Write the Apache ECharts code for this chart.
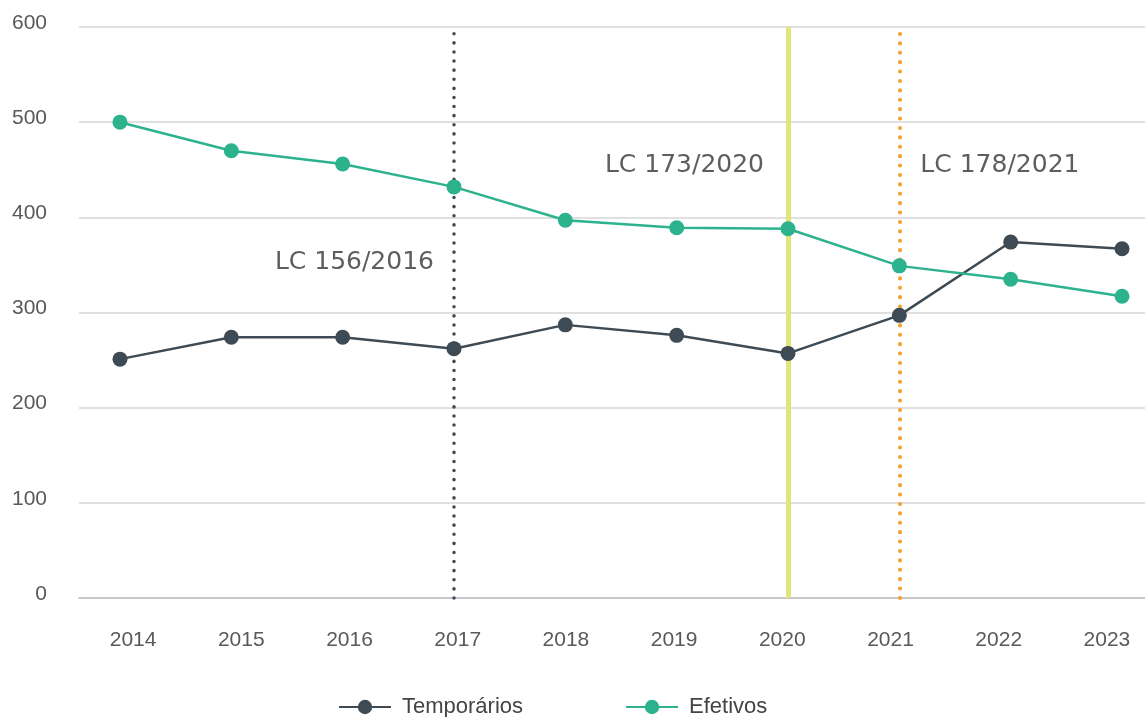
<!DOCTYPE html>
<html>
<head>
<meta charset="utf-8">
<title>Temporários x Efetivos</title>
<style>
  html, body { margin: 0; padding: 0; background: #fff; }
  #chart { width: 1145px; height: 717px; }
</style>
<script src="https://cdn.jsdelivr.net/npm/echarts@6/dist/echarts.min.js"></script>
</head>
<body>
<div id="chart"></div>
<script>
const years = [2014, 2015, 2016, 2017, 2018, 2019, 2020, 2021, 2022, 2023]
const temporarios = [251, 274, 274, 262, 287, 276, 257, 297, 374, 367]
const efetivos = [500, 470, 456, 432, 397, 389, 388, 349, 335, 317]

// y axis ticks
const yMin = 0
const yMax = 600
const yStep = 100

// laws marked on the chart
const lawYears = [2017, 2020, 2021]
const lawLabels = ['LC 156/2016', 'LC 173/2020', 'LC 178/2021']

const darkColor = '#3e4b55'
const tealColor = '#2db28e'
const textColor = '#595959'
const font = 'Liberation Sans, Arial, sans-serif'

const chart = echarts.init(document.getElementById('chart'))

const lawStyles = [
  { color: darkColor, width: 3.5, type: [0.1, 9], cap: 'round' },
  { color: '#e2e57a', width: 5, type: 'solid' },
  { color: '#f5a02e', width: 4, type: [0.1, 9.3], cap: 'round' }
]
const lawLabelPos = [
  { level: 353, side: 'left', distance: 20 },
  { level: 454, side: 'left', distance: 24 },
  { level: 454, side: 'right', distance: 21 }
]

function pairs(values) {
  return years.map((y, i) => [y, values[i]])
}

chart.setOption({
  animation: false,
  textStyle: { fontFamily: font },
  grid: { left: 79, right: -16, top: 27, bottom: 119, outerBoundsMode: 'none', containLabel: false },
  legend: {
    data: ['Temporários', 'Efetivos'],
    left: 333,
    top: 691,
    itemWidth: 52,
    itemHeight: 18,
    itemGap: 102,
    textStyle: { fontSize: 22, color: '#444', padding: [0, 0, 0, 6] }
  },
  xAxis: [{
    type: 'category',
    data: years.map(String),
    boundaryGap: true,
    axisTick: { show: false },
    axisLine: { lineStyle: { color: '#bdbdc5', width: 1.5 } },
    axisLabel: { fontSize: 21, color: textColor, margin: 32 }
  }, {
    type: 'value',
    min: 2013.632,
    max: 2023.35,
    show: false,
    splitLine: { show: false }
  }],
  yAxis: {
    type: 'value',
    min: yMin,
    max: yMax,
    interval: yStep,
    axisLine: { show: false },
    axisTick: { show: false },
    axisLabel: { fontSize: 21, color: textColor, margin: 32, verticalAlign: 'bottom', lineHeight: 8 },
    splitLine: { lineStyle: { color: '#d6d6d6', width: 1.5 } }
  },
  series: [{
    name: 'Temporários',
    type: 'line',
    xAxisIndex: 1,
    data: pairs(temporarios),
    symbol: 'circle',
    symbolSize: 15,
    color: darkColor,
    lineStyle: { width: 2.5, color: darkColor },
    itemStyle: { color: darkColor },
    markLine: {
      z: 1,
      silent: true,
      symbol: 'none',
      label: { show: false },
      data: lawYears.map((y, i) => ({ xAxis: y, lineStyle: lawStyles[i] }))
    }
  }, {
    name: 'Efetivos',
    type: 'line',
    xAxisIndex: 1,
    data: pairs(efetivos),
    symbol: 'circle',
    symbolSize: 15,
    color: tealColor,
    lineStyle: { width: 2.5, color: tealColor },
    itemStyle: { color: tealColor },
    markPoint: {
      silent: true,
      symbol: 'circle',
      symbolSize: 0,
      itemStyle: { color: 'transparent' },
      data: lawYears.map((y, i) => ({
        name: lawLabels[i],
        coord: [y, lawLabelPos[i].level],
        label: {
          show: true,
          formatter: '{b}',
          position: lawLabelPos[i].side,
          distance: lawLabelPos[i].distance,
          fontFamily: 'DejaVu Sans, Liberation Sans, sans-serif',
          fontSize: 25,
          color: '#5e5e5e'
        }
      }))
    }
  }]
})
</script>
</body>
</html>
